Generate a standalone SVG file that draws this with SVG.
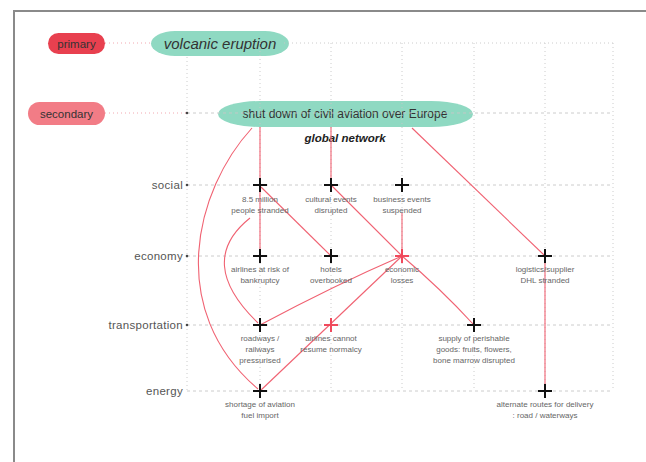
<svg xmlns="http://www.w3.org/2000/svg" width="646" height="462" viewBox="0 0 646 462">
<style>
.grid{stroke:#c8c8c8;stroke-width:1;fill:none;stroke-dasharray:1 3}
.row{stroke:#c8c8c8;stroke-width:1;fill:none;stroke-dasharray:3 3}
.pinkdot{stroke:#f2a0a8;stroke-width:1;fill:none;stroke-dasharray:1 3}
.edge{stroke:#f06272;stroke-width:1.1;fill:none}
.plus{stroke:#111;stroke-width:2}
.plusr{stroke:#f04a5c;stroke-width:2}
.lbl{font-family:"Liberation Sans",Arial,sans-serif;font-size:8px;fill:#666;text-anchor:middle}
.axis{font-family:"Liberation Sans",Arial,sans-serif;font-size:11.5px;fill:#555;text-anchor:end;letter-spacing:0.3px}
.pilltxt{font-family:"Liberation Sans",Arial,sans-serif;fill:#333;text-anchor:middle}
</style>
<defs>
<g id="plus"><line x1="-7" y1="0" x2="7" y2="0"/><line x1="0" y1="-7" x2="0" y2="7"/></g>
</defs>
<rect width="646" height="462" fill="#fff"/>
<path d="M14,462 V11 H646" stroke="#8a8a8a" stroke-width="2" fill="none"/>

<g id="level-primary">
<rect x="48" y="33" width="57" height="21" rx="10.5" fill="#e8404f"/>
<text class="pilltxt" x="76.5" y="47.5" font-size="11.5" fill="#3a0a10">primary</text>
</g>
<g id="level-secondary">
<rect x="28" y="102" width="77" height="23" rx="11.5" fill="#f27c86"/>
<text class="pilltxt" x="66.5" y="117.5" font-size="11.5">secondary</text>
</g>

<g id="volcanic-eruption">
<rect x="151" y="31" width="138" height="25" rx="24" ry="12.5" fill="#8fd9c2"/>
<text class="pilltxt" x="220" y="48.5" font-size="15" font-style="italic">volcanic eruption</text>
</g>
<g id="shutdown">
<rect x="218" y="101" width="255" height="26" rx="42" ry="13" fill="#8fd9c2"/>
<text class="pilltxt" x="345" y="118" font-size="12">shut down of civil aviation over Europe</text>
</g>
<text id="global-network" x="345" y="142" font-family="'Liberation Sans',Arial,sans-serif" font-size="11.5" font-style="italic" font-weight="bold" fill="#222" text-anchor="middle">global network</text>

<g id="grid" opacity="0.9">
<line class="grid" x1="187" y1="57" x2="187" y2="391"/>
<line class="grid" x1="260" y1="43" x2="260" y2="391"/>
<line class="grid" x1="331" y1="43" x2="331" y2="391"/>
<line class="grid" x1="402" y1="43" x2="402" y2="391"/>
<line class="grid" x1="474" y1="43" x2="474" y2="391"/>
<line class="grid" x1="545" y1="43" x2="545" y2="391"/>
<line class="grid" x1="613" y1="43" x2="613" y2="391"/>
<line class="pinkdot" x1="105" y1="43" x2="152" y2="43"/>
<line class="grid" x1="284" y1="43" x2="613" y2="43"/>
<line class="pinkdot" x1="105" y1="113" x2="187" y2="113"/>
<line class="row" x1="187" y1="113" x2="613" y2="113"/>
<line class="row" x1="187" y1="185" x2="613" y2="185"/>
<line class="row" x1="187" y1="256" x2="613" y2="256"/>
<line class="row" x1="187" y1="325" x2="613" y2="325"/>
<line class="row" x1="187" y1="391" x2="613" y2="391"/>
<circle cx="187" cy="113" r="1.3" fill="#333"/>
<circle cx="187" cy="185" r="1.3" fill="#333"/>
<circle cx="187" cy="256" r="1.3" fill="#333"/>
<circle cx="187" cy="325" r="1.3" fill="#333"/>
</g>

<g id="axis-labels">
<text class="axis" x="183" y="189">social</text>
<text class="axis" x="183" y="260">economy</text>
<text class="axis" x="183" y="329">transportation</text>
<text class="axis" x="183" y="395">energy</text>
</g>

<g id="connectors">
<line class="edge" x1="260" y1="127" x2="260" y2="185"/>
<line class="edge" x1="331" y1="127" x2="331" y2="185"/>
<line class="edge" x1="412" y1="128" x2="545" y2="256"/>
<path class="edge" d="M252,128 C195,190 165,310 258,389"/>
<line class="edge" x1="260" y1="185" x2="260" y2="256"/>
<line class="edge" x1="261" y1="187" x2="331" y2="256"/>
<line class="edge" x1="331" y1="185" x2="402" y2="256"/>
<line class="edge" x1="402" y1="213" x2="402" y2="256"/>
<path class="edge" d="M250,218 Q195,262 258,323"/>
<path class="edge" d="M402,256 Q335,285 260,325"/>
<line class="edge" x1="402" y1="256" x2="260" y2="391"/>
<path class="edge" d="M402,256 Q440,288 474,325"/>
<line class="edge" x1="545" y1="256" x2="545" y2="391"/>
</g>

<g id="n-stranded"><use href="#plus" class="plus" x="260" y="185"/><text class="lbl" x="260" y="202">8.5 million</text><text class="lbl" x="260" y="213">people stranded</text></g>
<g id="n-cultural"><use href="#plus" class="plus" x="331" y="185"/><text class="lbl" x="331" y="202">cultural events</text><text class="lbl" x="331" y="213">disrupted</text></g>
<g id="n-business"><use href="#plus" class="plus" x="402" y="185"/><text class="lbl" x="402" y="202">business events</text><text class="lbl" x="402" y="213">suspended</text></g>
<g id="n-airlines-risk"><use href="#plus" class="plus" x="260" y="256"/><text class="lbl" x="260" y="272">airlines at risk of</text><text class="lbl" x="260" y="283">bankruptcy</text></g>
<g id="n-hotels"><use href="#plus" class="plus" x="331" y="256"/><text class="lbl" x="331" y="272">hotels</text><text class="lbl" x="331" y="283">overbooked</text></g>
<g id="n-economic"><use href="#plus" class="plusr" x="402" y="256" stroke-width="3"/><text class="lbl" x="402" y="272">economic</text><text class="lbl" x="402" y="283">losses</text></g>
<g id="n-logistics"><use href="#plus" class="plus" x="545" y="256"/><text class="lbl" x="545" y="272">logistics/supplier</text><text class="lbl" x="545" y="283">DHL stranded</text></g>
<g id="n-roadways"><use href="#plus" class="plus" x="260" y="325"/><text class="lbl" x="260" y="341">roadways /</text><text class="lbl" x="260" y="352">railways</text><text class="lbl" x="260" y="363">pressurised</text></g>
<g id="n-airlines-normalcy"><use href="#plus" class="plusr" x="331" y="325"/><text class="lbl" x="331" y="341">airlines cannot</text><text class="lbl" x="331" y="352">resume normalcy</text></g>
<g id="n-perishable"><use href="#plus" class="plus" x="474" y="325"/><text class="lbl" x="474" y="341">supply of perishable</text><text class="lbl" x="474" y="352">goods: fruits, flowers,</text><text class="lbl" x="474" y="363">bone marrow disrupted</text></g>
<g id="n-fuel"><use href="#plus" class="plus" x="260" y="391"/><text class="lbl" x="260" y="407">shortage of aviation</text><text class="lbl" x="260" y="418">fuel import</text></g>
<g id="n-alternate"><use href="#plus" class="plus" x="545" y="391"/><text class="lbl" x="545" y="407">alternate routes for delivery</text><text class="lbl" x="545" y="418">: road / waterways</text></g>
</svg>
